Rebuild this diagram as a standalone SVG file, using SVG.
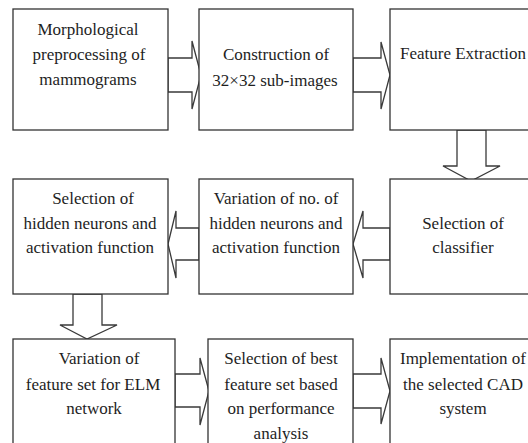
<svg xmlns="http://www.w3.org/2000/svg" width="528" height="443" viewBox="0 0 528 443">
<style>
.box{fill:#fff;stroke:#333;stroke-width:1.3}
.arr{fill:#fff;stroke:#3a3a3a;stroke-width:1.3;stroke-linejoin:miter}
</style>
<rect width="528" height="443" fill="#fff"/>
<g id="connectors">
<polygon class="arr" points="168,58 192,58 192,41 201,75 192,109 192,92 168,92"/>
<polygon class="arr" points="353,58 381,58 381,42 390,75 381,109 381,92 353,92"/>
<polygon class="arr" points="457,130 457,166 443,166 471,181 500,166 486,166 486,130"/>
<polygon class="arr" points="390,228 363,228 363,211 353,244 363,278 363,260 390,260"/>
<polygon class="arr" points="199,228 176,228 176,211 168,244 176,278 176,260 199,260"/>
<polygon class="arr" points="73,294 73,325 60,325 87,339 117,325 102,325 102,294"/>
<polygon class="arr" points="175,374 200,374 200,358 209,391 200,425 200,407 175,407"/>
<polygon class="arr" points="353,374 381,374 381,358 390,391 381,424 381,408 353,408"/>
</g>
<g font-family="Liberation Serif, DejaVu Serif, serif" font-size="17" fill="#1e1e1e" text-anchor="middle">
<g id="n1"><rect class="box" x="13" y="9" width="155" height="121"/>
<text x="88" y="35">Morphological</text><text x="89" y="60">preprocessing of</text><text x="88" y="85">mammograms</text></g>
<g id="n2"><rect class="box" x="199" y="9" width="154" height="121"/>
<text x="276" y="60">Construction of</text><text x="275" y="86">32×32 sub-images</text></g>
<g id="n3"><rect class="box" x="390" y="9" width="145" height="121"/>
<text x="463" y="59">Feature Extraction</text></g>
<g id="n4"><rect class="box" x="13" y="179" width="155" height="115"/>
<text x="93" y="204">Selection of</text><text x="90" y="229">hidden neurons and</text><text x="90" y="253">activation function</text></g>
<g id="n5"><rect class="box" x="199" y="179" width="154" height="115"/>
<text x="276" y="204">Variation of no. of</text><text x="276" y="229">hidden neurons and</text><text x="276" y="253">activation function</text></g>
<g id="n6"><rect class="box" x="390" y="179" width="145" height="115"/>
<text x="463" y="229">Selection of</text><text x="463" y="253">classifier</text></g>
<g id="n7"><rect class="box" x="13" y="339" width="162" height="110"/>
<text x="99" y="364">Variation of</text><text x="93" y="390">feature set for ELM</text><text x="94" y="414">network</text></g>
<g id="n8"><rect class="box" x="208" y="339" width="145" height="110"/>
<text x="281" y="364">Selection of best</text><text x="281" y="390">feature set based</text><text x="281" y="414">on performance</text><text x="281" y="439">analysis</text></g>
<g id="n9"><rect class="box" x="390" y="339" width="145" height="110"/>
<text x="463" y="364">Implementation of</text><text x="463" y="390">the selected CAD</text><text x="463" y="414">system</text></g>
</g>
</svg>
